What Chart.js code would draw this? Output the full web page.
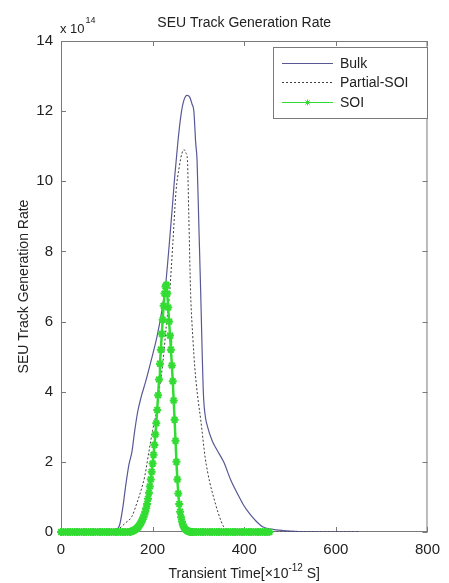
<!DOCTYPE html>
<html>
<head>
<meta charset="utf-8">
<script src="https://cdn.jsdelivr.net/npm/chart.js@4.4.1/dist/chart.umd.min.js"></script>
<style>
  html, body { margin: 0; padding: 0; background: #fff; }
  #wrap { width: 449px; height: 583px; }
</style>
</head>
<body>
<div id="wrap"><canvas id="seuChart"></canvas></div>
<script>
// --- data (time in 1e-12 s, rate in 1e14) ---
const bulkTime = [0, 60, 110, 120, 128, 135, 141, 148, 155, 160, 167, 175, 185, 197, 210, 220, 228, 235, 242, 248, 255, 262, 268, 275, 281, 286, 290, 294, 297, 301, 305, 308, 311, 315, 320, 330, 340, 355, 370, 385, 397, 410, 425, 440, 460, 485, 520, 560, 650];
const bulkRate = [0, 0, 0, 0.05, 0.2, 0.7, 1.3, 1.9, 2.3, 2.8, 3.4, 3.85, 4.3, 4.9, 5.6, 6.3, 7.0, 8.0, 9.1, 10.1, 11.1, 11.9, 12.3, 12.45, 12.4, 12.2, 12.0, 11.1, 10.6, 8.7, 6.8, 5.2, 3.9, 3.3, 3.0, 2.6, 2.35, 2.0, 1.5, 1.1, 0.8, 0.55, 0.32, 0.15, 0.08, 0.04, 0.01, 0, 0];

const partialTime = [0, 60, 110, 127, 140, 155, 165, 175, 183, 192, 200, 208, 215, 223, 230, 237, 244, 251, 258, 264, 269, 273, 276, 279, 283, 288, 292, 298, 305, 315, 325, 333, 343, 355, 370, 400, 650];
const partialRate = [0, 0, 0, 0.1, 0.25, 0.45, 0.8, 1.2, 1.6, 2.3, 2.9, 3.4, 4.1, 4.9, 5.9, 6.8, 8.2, 9.7, 10.4, 10.8, 10.9, 10.8, 10.6, 9.0, 6.8, 5.5, 4.7, 3.9, 3.2, 2.1, 1.4, 1.0, 0.55, 0.15, 0.03, 0, 0];

const soiTime = [
  0, 5, 10, 15, 20, 25, 30, 35, 40, 45, 50, 55, 60, 65, 70, 75, 80, 85, 90, 95,
  100, 105, 110, 115, 120, 125, 130, 135, 140, 145,
  150, 152, 154, 156, 158, 160, 162, 164, 166, 168, 170, 172, 174, 176, 178, 180,
  182, 184, 186, 188, 190, 192, 194, 196, 198, 200, 202, 204, 206, 208, 210, 212,
  214, 216, 218, 220, 222, 224, 226, 228, 230, 232, 234, 236, 238, 240, 242, 244,
  246, 248, 250, 252, 254, 256, 258, 260, 262, 264, 266, 268, 270, 272, 274, 276,
  278, 280, 282, 284, 286,
  290, 295, 300, 305, 310, 315, 320, 325, 330, 335, 340, 345, 350, 355, 360, 365,
  370, 375, 380, 385, 390, 395, 400, 405, 410, 415, 420, 425, 430, 435, 440, 445,
  450, 455
];
const soiRate = [
  0, 0, 0, 0, 0, 0, 0, 0, 0, 0, 0, 0, 0, 0, 0, 0, 0, 0, 0, 0,
  0, 0, 0, 0, 0, 0, 0, 0, 0, 0,
  0, 0.01, 0.02, 0.03, 0.04, 0.05, 0.07, 0.09, 0.11, 0.14, 0.17, 0.21, 0.25, 0.30, 0.36, 0.42,
  0.50, 0.58, 0.68, 0.80, 0.95, 1.12, 1.30, 1.50, 1.72, 1.95, 2.20, 2.48, 2.78, 3.10, 3.48, 3.90,
  4.35, 4.80, 5.20, 5.65, 6.05, 6.45, 6.80, 7.00, 7.05, 6.80, 6.40, 6.00, 5.60, 5.20, 4.75, 4.30,
  3.75, 3.20, 2.60, 2.00, 1.50, 1.10, 0.80, 0.58, 0.42, 0.30, 0.21, 0.15, 0.10, 0.07, 0.05, 0.03,
  0.02, 0.01, 0.01, 0, 0,
  0, 0, 0, 0, 0, 0, 0, 0, 0, 0, 0, 0, 0, 0, 0, 0,
  0, 0, 0, 0, 0, 0, 0, 0, 0, 0, 0, 0, 0, 0, 0, 0,
  0, 0
];

const seriesNames = ['Bulk', 'Partial-SOI', 'SOI'];
const xTicks = [0, 200, 400, 600, 800];
const yTicks = [0, 2, 4, 6, 8, 10, 12, 14];

const FONT = '"Liberation Sans", Arial, Helvetica, sans-serif';
const TEXT = '#222';
const AXIS = '#7a7a7a';
const bulkColor = 'rgb(88, 88, 150)';
const partialColor = 'rgb(60, 60, 60)';
const soiColor = 'rgb(50, 220, 50)';

const toXY = (xs, ys) => xs.map((x, i) => ({ x: x, y: ys[i] }));

// box, inward ticks, titles and legend (MATLAB look)
const matlabFrame = {
    id: 'matlabFrame',
    beforeDatasetsDraw(chart) {
        const { ctx, chartArea: a, scales } = chart;
        ctx.save();
        ctx.strokeStyle = AXIS;
        ctx.lineWidth = 1;
        ctx.strokeRect(a.left + 0.5, a.top + 0.5, a.right - a.left - 1, a.bottom - a.top - 1);
        ctx.beginPath();
        xTicks.forEach(v => {
            const px = Math.round(scales.x.getPixelForValue(v)) + 0.5;
            ctx.moveTo(px, a.bottom); ctx.lineTo(px, a.bottom - 5);
            ctx.moveTo(px, a.top); ctx.lineTo(px, a.top + 5);
        });
        yTicks.forEach(v => {
            const py = Math.round(scales.y.getPixelForValue(v)) + 0.5;
            ctx.moveTo(a.left, py); ctx.lineTo(a.left + 5, py);
            ctx.moveTo(a.right, py); ctx.lineTo(a.right - 5, py);
        });
        ctx.stroke();
        ctx.restore();
    },
    afterDatasetsDraw(chart) {
        const { ctx, chartArea: a } = chart;
        const cx = (a.left + a.right) / 2;
        ctx.save();
        ctx.fillStyle = TEXT;

        // title
        ctx.font = '14px ' + FONT;
        ctx.textAlign = 'center';
        ctx.textBaseline = 'alphabetic';
        ctx.fillText('SEU Track Generation Rate', cx, 27);

        // exponent above y axis
        ctx.textAlign = 'left';
        ctx.font = '13px ' + FONT;
        ctx.fillText('x 10', 60, 33);
        const w10 = ctx.measureText('x 10').width;
        ctx.font = '9px ' + FONT;
        ctx.fillText('14', 60 + w10 + 1, 23);

        // x axis label with superscript
        const p1 = 'Transient Time[\u00d710', p2 = '-12', p3 = ' S]';
        ctx.font = '14px ' + FONT;
        const w1 = ctx.measureText(p1).width, w3 = ctx.measureText(p3).width;
        ctx.font = '10px ' + FONT;
        const w2 = ctx.measureText(p2).width;
        let x0 = cx - (w1 + w2 + w3) / 2;
        ctx.font = '14px ' + FONT;
        ctx.fillText(p1, x0, 578);
        ctx.font = '10px ' + FONT;
        ctx.fillText(p2, x0 + w1, 571);
        ctx.font = '14px ' + FONT;
        ctx.fillText(p3, x0 + w1 + w2, 578);

        // y axis label
        ctx.save();
        ctx.translate(28, (a.top + a.bottom) / 2);
        ctx.rotate(-Math.PI / 2);
        ctx.textAlign = 'center';
        ctx.font = '14px ' + FONT;
        ctx.fillText('SEU Track Generation Rate', 0, 0);
        ctx.restore();

        // legend
        const lx = 273, ly = 47, lw = 154, lh = 71;
        ctx.fillStyle = '#fff';
        ctx.fillRect(lx, ly, lw, lh);
        ctx.strokeStyle = AXIS;
        ctx.lineWidth = 1;
        ctx.strokeRect(lx + 0.5, ly + 0.5, lw, lh);
        const rows = [63, 82, 102];
        chart.data.datasets.forEach((ds, i) => {
            const y = rows[i] + 0.5;
            ctx.save();
            ctx.strokeStyle = ds.borderColor;
            ctx.lineWidth = Math.min(ds.borderWidth, 1.2);
            ctx.setLineDash(ds.borderDash || []);
            ctx.beginPath();
            ctx.moveTo(282, y); ctx.lineTo(333, y);
            ctx.stroke();
            ctx.restore();
            if (ds.pointRadius > 0) {
                ctx.save();
                ctx.strokeStyle = ds.pointBorderColor;
                Chart.helpers.drawPoint(ctx, {
                    pointStyle: ds.pointStyle, radius: 3,
                    borderWidth: ds.pointBorderWidth
                }, 307.5, y);
                ctx.restore();
            }
            ctx.fillStyle = TEXT;
            ctx.font = '14px ' + FONT;
            ctx.textAlign = 'left';
            ctx.textBaseline = 'middle';
            ctx.fillText(ds.label, 340, rows[i] + 1);
        });
        ctx.restore();
    }
};

const ctx = document.getElementById('seuChart').getContext('2d');
new Chart(ctx, {
    type: 'line',
    data: {
        datasets: [{
            label: seriesNames[0],
            data: toXY(bulkTime, bulkRate),
            borderColor: bulkColor,
            borderWidth: 1.2,
            pointRadius: 0,
            cubicInterpolationMode: 'monotone',
            order: 2
        }, {
            label: seriesNames[1],
            data: toXY(partialTime, partialRate),
            borderColor: partialColor,
            borderWidth: 1,
            borderDash: [2, 2],
            pointRadius: 0,
            cubicInterpolationMode: 'monotone',
            order: 1
        }, {
            label: seriesNames[2],
            data: toXY(soiTime, soiRate),
            borderColor: soiColor,
            backgroundColor: soiColor,
            borderWidth: 2.5,
            pointStyle: 'star',
            pointRadius: 4,
            pointBorderWidth: 2,
            pointBorderColor: soiColor,
            clip: 6,
            order: 0
        }]
    },
    options: {
        responsive: true,
        maintainAspectRatio: false,
        animation: false,
        layout: { padding: { top: 41, right: 14, left: 0, bottom: 0 } },
        scales: {
            x: {
                type: 'linear',
                min: 0, max: 800,
                afterBuildTicks: s => { s.ticks = xTicks.map(v => ({ value: v })); },
                afterFit: s => { s.height = 51; },
                grid: { display: false, drawTicks: false },
                border: { display: false },
                ticks: { padding: 9, color: TEXT, font: { family: FONT, size: 15 }, maxRotation: 0 }
            },
            y: {
                min: 0, max: 14,
                afterBuildTicks: s => { s.ticks = yTicks.map(v => ({ value: v })); },
                afterFit: s => { s.width = 61; },
                grid: { display: false, drawTicks: false },
                border: { display: false },
                ticks: { padding: 8, color: TEXT, font: { family: FONT, size: 15 } }
            }
        },
        plugins: {
            legend: { display: false },
            tooltip: { enabled: false },
            title: { display: false }
        }
    },
    plugins: [matlabFrame]
});
</script>
</body>
</html>
